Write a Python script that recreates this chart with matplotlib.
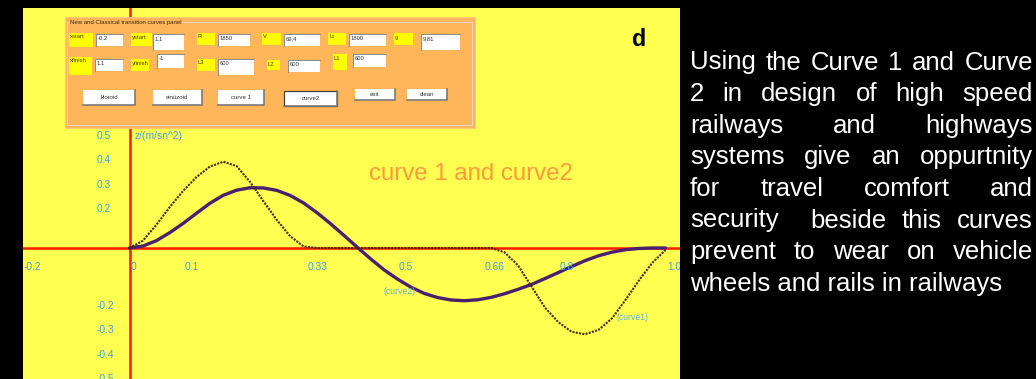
import matplotlib
matplotlib.use("Agg")
import matplotlib.pyplot as plt
from matplotlib.patches import Rectangle
from matplotlib.transforms import offset_copy

# normalised position along the transition curve
x_pos = [0.000, 0.025, 0.050, 0.075, 0.100, 0.125, 0.150, 0.175, 0.200, 0.225,
         0.250, 0.275, 0.300, 0.325, 0.350, 0.375, 0.400, 0.425, 0.450, 0.475,
         0.500, 0.525, 0.550, 0.575, 0.600, 0.625, 0.650, 0.675, 0.700, 0.725,
         0.750, 0.775, 0.800, 0.825, 0.850, 0.875, 0.900, 0.925, 0.950, 0.975,
         1.000]

# z (m/sn^2) for curve 1 and curve 2
curve1 = [0.000, 0.030, 0.095, 0.168, 0.235, 0.292, 0.335, 0.355, 0.337, 0.272,
          0.192, 0.115, 0.048, 0.006, 0.000, 0.000, 0.000, 0.000, 0.000, 0.000,
          0.000, 0.000, 0.000, 0.000, 0.000, 0.000, 0.000, 0.000, -0.018, -0.072,
          -0.158, -0.245, -0.305, -0.345, -0.355, -0.337, -0.290, -0.215, -0.135, -0.062,
          -0.008]
curve2 = [0.000, 0.008, 0.030, 0.063, 0.101, 0.143, 0.184, 0.217, 0.238, 0.248,
          0.247, 0.237, 0.216, 0.185, 0.145, 0.100, 0.052, 0.003, -0.045, -0.090,
          -0.128, -0.161, -0.187, -0.204, -0.214, -0.217, -0.213, -0.203, -0.188, -0.170,
          -0.150, -0.126, -0.101, -0.076, -0.052, -0.032, -0.017, -0.007, -0.002, 0.000,
          0.000]

x_ticks = [-0.2, 0.0, 0.1, 0.33, 0.5, 0.66, 0.8, 1.0]
x_tick_labels = ["-0.2", "0", "0.1", "0.33", "0.5", "0.66", "0.8", "1.0"]
y_ticks = [0.5, 0.4, 0.3, 0.2, -0.2, -0.3, -0.4, -0.5]
y_tick_labels = ["0.5", "0.4", "0.3", "0.2", "-0.2", "-0.3", "-0.4", "-0.5"]

# panel fields: (name, value)
row1_fields = [("xstart", "-0.2"), ("ystart", "1,1"), ("R", "1850"),
               ("V", "69,4"), ("Lt", "1800"), ("g", "9,81")]
row2_fields = [("xfinish", "1.1"), ("yfinish", "-1"), ("L3", "600"),
               ("L2", "600"), ("L1", "600")]
buttons = ["klotoid", "sinüzoid", "curve 1", "curve2", "exit", "clean"]

paragraph = [
    "Using the Curve 1 and Curve",
    "2 in design of high speed",
    "railways and highways",
    "systems give an oppurtnity",
    "for travel comfort and",
    "security  beside this curves",
    "prevent to wear on vehicle",
    "wheels and rails in railways",
]

W, H = 1036, 379
FONT = "Liberation Sans"
BLUE = "#3da5ec"

fig = plt.figure(figsize=(W / 100, H / 100), dpi=100)
fig.patch.set_facecolor("black")

# plot area in pixels: x 23..680, y 8..379 ; origin at (129.5, 248)
ax = fig.add_axes([23 / W, 0, (680 - 23) / W, (H - 8) / H])
ax.set_facecolor("#ffff52")
px_x, px_y = 536.0, 243.0
ax.set_xlim((23 - 129.5) / px_x, (680 - 129.5) / px_x)
ax.set_ylim((248 - 379) / px_y, (248 - 8) / px_y)
for s in ax.spines.values():
    s.set_visible(False)
ax.set_xticks([])
ax.set_yticks([])

ax.axhline(0, color="#ff1a00", lw=1.8, zorder=1)
ax.axvline(0, color="#ff1a00", lw=1.8, zorder=1)

ax.plot(x_pos, curve2, color="#4a1f6e", lw=2.4, zorder=3, solid_capstyle="round")
ax.plot(x_pos, curve1, color="#4a2a0c", lw=1.5, ls=(0, (1.0, 0.6)), zorder=4)

# tick labels sit a little below/right of their tick positions
xlab_tr = offset_copy(ax.transData, fig=fig, x=1.5, y=-22, units="dots")
for v, t in zip(x_ticks, x_tick_labels):
    ax.text(v, 0, t, transform=xlab_tr, ha="left", va="baseline",
            fontsize=7.4, family=FONT, color=BLUE, clip_on=True)
ylab_tr = offset_copy(ax.transData, fig=fig, x=0, y=-12.5, units="dots")
for v, t in zip(y_ticks, y_tick_labels):
    ax.text(-0.0606, v, t, transform=ylab_tr, ha="left", va="baseline",
            fontsize=7.4, family=FONT, color=BLUE, clip_on=True)
ax.text(0.0103, 0.5, "z/(m/sn^2)", transform=ylab_tr, ha="left", va="baseline",
        fontsize=7.4, family=FONT, color=BLUE)

ax.text(0.473, -0.181, "(curve2)", ha="left", va="center",
        fontsize=6.2, family=FONT, color="#62b6e0")
ax.text(0.908, -0.284, "(curve1)", ha="left", va="center",
        fontsize=6.2, family=FONT, color="#62b6e0")
ax.text(0.447, 0.278, "curve 1 and curve2", ha="left", va="baseline",
        fontsize=17.3, family=FONT, color="#ff9a3c")

# overlay in pixel coordinates for the control panel
ov = fig.add_axes([0, 0, 1, 1], zorder=5)
ov.set_xlim(0, W)
ov.set_ylim(H, 0)
ov.axis("off")


def box(x0, y0, x1, y1, **kw):
    ov.add_patch(Rectangle((x0, y0), x1 - x0, y1 - y0, **kw))


box(65, 17, 475, 128, facecolor="#ffb55a", edgecolor="#ffc878", lw=0.6)
box(67, 22, 472, 125, facecolor="none", edgecolor="#e6d8c0", lw=0.8)
ov.text(70, 22.5, "New and Classical transition curves panel", fontsize=4.3,
        family=FONT, color="#3a2a10", va="center", ha="left",
        bbox=dict(facecolor="#ffb55a", edgecolor="none", pad=0.6))

# label box (x0, x1, y0, y1) and text box (x0, x1, y0, y1)
row1_boxes = [((69, 93, 33, 47), (96, 123, 34, 46)),
              ((131, 152, 33, 46), (153, 184, 34, 50)),
              ((197, 215, 33, 45), (218, 250, 34, 46)),
              ((262, 281, 33, 45), (284, 320, 34, 46)),
              ((328, 346, 33, 45), (349, 386, 34, 46)),
              ((394, 413, 33, 45), (421, 460, 34, 50))]
row2_boxes = [((69, 92, 57, 75), (95, 123, 59, 71)),
              ((131, 149, 59, 71), (157, 184, 54, 68)),
              ((197, 215, 59, 71), (218, 254, 59, 75)),
              ((267, 280, 60, 70), (288, 320, 60, 72)),
              ((333, 347, 54, 70), (353, 386, 54, 67))]

for fields, boxes in ((row1_fields, row1_boxes), (row2_fields, row2_boxes)):
    for (name, val), (lb, tb) in zip(fields, boxes):
        box(lb[0], lb[2], lb[1], lb[3], facecolor="#ffff00", edgecolor="none")
        ov.text(lb[0] + 1, lb[2] + 1.5, name, fontsize=4.2, family=FONT,
                color="#4a3a00", ha="left", va="top")
        box(tb[0], tb[2], tb[1], tb[3], facecolor="white", edgecolor="none")
        ov.plot([tb[0], tb[0], tb[1]], [tb[3], tb[2], tb[2]], color="#8a8a8a", lw=0.7)
        ov.text(tb[0] + 2, tb[2] + 2, val, fontsize=4.2, family=FONT,
                color="#333333", ha="left", va="top")

button_boxes = [(83, 135, 90, 105), (153, 202, 90, 105), (218, 264, 90, 105),
                (284, 337, 91, 106), (355, 395, 89, 100), (407, 447, 89, 100)]
for name, (x0, x1, y0, y1) in zip(buttons, button_boxes):
    box(x0, y0, x1, y1, facecolor="white", edgecolor="none")
    ov.plot([x0, x1, x1], [y1, y1, y0], color="#7a7a7a", lw=1.2)
    if name == "curve2":
        box(x0, y0, x1, y1, facecolor="none", edgecolor="#404040", lw=0.9)
    ov.text((x0 + x1) / 2, (y0 + y1) / 2, name, fontsize=4.4, family=FONT,
            color="#333333", ha="center", va="center")

fig.text(639 / W, 1 - 39 / H, "d", fontsize=16.7, family=FONT, weight="bold",
         color="black", ha="center", va="center")

# justified paragraph on the right
left, right = 690, 1033
base0, step = 69.5, 31.6
renderer = fig.canvas.get_renderer()
for i, line in enumerate(paragraph):
    yb = 1 - (base0 + i * step) / H
    if i == len(paragraph) - 1:
        fig.text(left / W, yb, line, fontsize=18.5, family=FONT, color="white",
                 ha="left", va="baseline")
        continue
    words = line.split(" ")
    texts = [fig.text(0, yb, w, fontsize=18.5, family=FONT, color="white",
                      ha="left", va="baseline") for w in words]
    widths = [t.get_window_extent(renderer).width for t in texts]
    gap = (right - left - sum(widths)) / (len(words) - 1)
    xp = left
    for t, w in zip(texts, widths):
        t.set_x(xp / W)
        xp += w + gap

fig.savefig("out.png", dpi=100, facecolor=fig.get_facecolor())
